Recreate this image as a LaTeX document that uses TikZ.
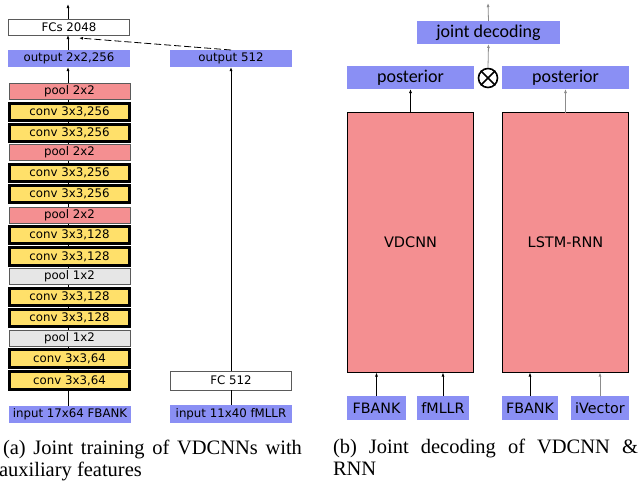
\documentclass[tikz,border=0pt]{standalone}
\usepackage{fontspec}
\setmainfont{Liberation Serif}
\newfontfamily\dejavu{DejaVu Sans}
\newfontfamily\carlito{Carlito}
\usetikzlibrary{arrows.meta}
\pgfdeclarelayer{background}
\pgfdeclarelayer{canvas}
\pgfsetlayers{canvas,background,main}
\definecolor{myblue}{HTML}{8A8FF4}
\definecolor{myred}{HTML}{F48F91}
\definecolor{myyellow}{HTML}{FFE06A}
\definecolor{mygray}{HTML}{E6E6E6}
\definecolor{edgegray}{HTML}{5A5A5A}
\tikzset{
  base/.style={inner sep=0pt, outer sep=0pt, align=center, font=\dejavu\fontsize{11.8}{13}\selectfont},
  blueL/.style={base, fill=myblue, minimum width=122pt, minimum height=17pt},
  poolR/.style={base, fill=myred, draw=edgegray, line width=0.8pt, minimum width=121pt, minimum height=16pt},
  poolG/.style={base, fill=mygray, draw=edgegray, line width=0.8pt, minimum width=121pt, minimum height=16pt},
  convbox/.style={base, fill=myyellow, draw=black, line width=2.6pt, minimum width=120.5pt, minimum height=17.5pt},
  whitebox/.style={base, fill=white, draw=edgegray, line width=0.8pt, minimum width=121pt},
  blueR/.style={base, fill=myblue, minimum height=23pt, font=\carlito\fontsize{18}{20}\selectfont},
  inR/.style={base, fill=myblue, minimum height=24pt, font=\dejavu\fontsize{14.3}{16}\selectfont},
  netbox/.style={base, fill=myred, draw=black, line width=1pt, minimum width=126pt, minimum height=260pt, font=\dejavu\fontsize{14.5}{16}\selectfont},
  arr/.style={-{Latex[length=4pt,width=3pt]}, line width=0.8pt},
  garr/.style={arr, draw=black!45},
  capt/.style={inner sep=0pt, outer sep=0pt, anchor=base west, font=\fontsize{20.5}{22}\selectfont}
}
\begin{document}
\begin{tikzpicture}[x=1pt, y=-1pt]
\useasboundingbox (0,0) rectangle (640,483);
\begin{pgfonlayer}{canvas}
\fill[white] (0,0) rectangle (640,483);
\end{pgfonlayer}
% ---------- panel (a) ----------
\node[whitebox, minimum height=16pt] (fcs) at (69,27) {FCs 2048};
\node[blueL] (outA) at (69,58.5) {output 2x2,256};
\node[blueL] (outB) at (231,58.5) {output 512};
\node[poolR] (p1) at (69.5,91) {pool 2x2};
\node[convbox] (c1) at (69.5,112) {conv 3x3,256};
\node[convbox] (c2) at (69.5,133) {conv 3x3,256};
\node[poolR] (p2) at (69.5,152.5) {pool 2x2};
\node[convbox] (c3) at (69.5,173) {conv 3x3,256};
\node[convbox] (c4) at (69.5,194) {conv 3x3,256};
\node[poolR] (p3) at (69.5,215) {pool 2x2};
\node[convbox] (c5) at (69.5,235) {conv 3x3,128};
\node[convbox] (c6) at (69.5,256.5) {conv 3x3,128};
\node[poolG] (p4) at (69.5,276.5) {pool 1x2};
\node[convbox] (c7) at (69.5,297) {conv 3x3,128};
\node[convbox] (c8) at (69.5,318) {conv 3x3,128};
\node[poolG] (p5) at (69.5,338.5) {pool 1x2};
\node[convbox] (c9) at (69.5,358.5) {conv 3x3,64};
\node[convbox] (c10) at (69.5,380.5) {conv 3x3,64};
\node[blueL] (inA) at (70,414) {input 17x64 FBANK};
\node[whitebox, minimum height=19pt] (fc512) at (231,380.5) {FC 512};
\node[blueL, minimum height=18pt] (inB) at (231,414) {input 11x40 fMLLR};
\coordinate (topA) at (68,4);
\begin{pgfonlayer}{background}
\draw[arr] (inA.north -| 68,0) -- (outA.south -| 68,0);
\end{pgfonlayer}
\draw[arr] (outA.north -| 68,0) -- (fcs.south -| 68,0);
\draw[arr] (fcs.north -| 68,0) -- (topA);
\draw[arr, dashed, dash pattern=on 7pt off 3pt] (outB.north) -- ([xshift=10pt,yshift=-3pt]fcs.south);
\draw[line width=0.8pt] (inB.north) -- (fc512.south);
\draw[arr] (fc512.north) -- (outB.south);
% ---------- panel (b) ----------
\node[blueR, minimum width=143pt] (jd) at (488.5,32.5) {joint decoding};
\node[blueR, minimum width=127pt] (postL) at (410.5,77.5) {posterior};
\node[blueR, minimum width=127pt] (postR) at (565.5,77.5) {posterior};
\node[circle, draw=black, line width=1.6pt, minimum size=19pt, inner sep=0pt] (ot) at (488,78) {};
\draw[line width=1.6pt] (ot.north east) -- (ot.south west) (ot.north west) -- (ot.south east);
\node[netbox] (vd) at (410.5,242.5) {VDCNN};
\node[netbox] (ls) at (565.5,242.5) {LSTM-RNN};
\node[inR, minimum width=59pt] (fb1) at (376.5,408) {FBANK};
\node[inR, minimum width=52pt] (fm) at (443,408) {fMLLR};
\node[inR, minimum width=56pt] (fb2) at (530,408) {FBANK};
\node[inR, minimum width=58pt] (iv) at (600,408) {iVector};
\coordinate (topB) at (488,3);
\draw[garr] (jd.north) -- (topB);
\draw[garr] (ot.north) -- (jd.south);
\draw[arr] (vd.north) -- (postL.south);
\draw[garr] (ls.north) -- (postR.south);
\draw[arr] (fb1.north) -- (fb1.north |- vd.south);
\draw[arr] (fm.north) -- (fm.north |- vd.south);
\draw[arr] (fb2.north) -- (fb2.north |- ls.south);
\draw[garr] (iv.north) -- (iv.north |- ls.south);
% ---------- captions ----------
\node[capt] (capA1) at (3,454) {\makebox[299pt][s]{(a) Joint training of VDCNNs with}};
\node[capt] (capA2) at (-1,476) {auxiliary features};
\node[capt] (capB1) at (333,453) {\makebox[305pt][s]{(b) Joint decoding of VDCNN \&}};
\node[capt] (capB2) at (333,475) {RNN};
\end{tikzpicture}
\end{document}
